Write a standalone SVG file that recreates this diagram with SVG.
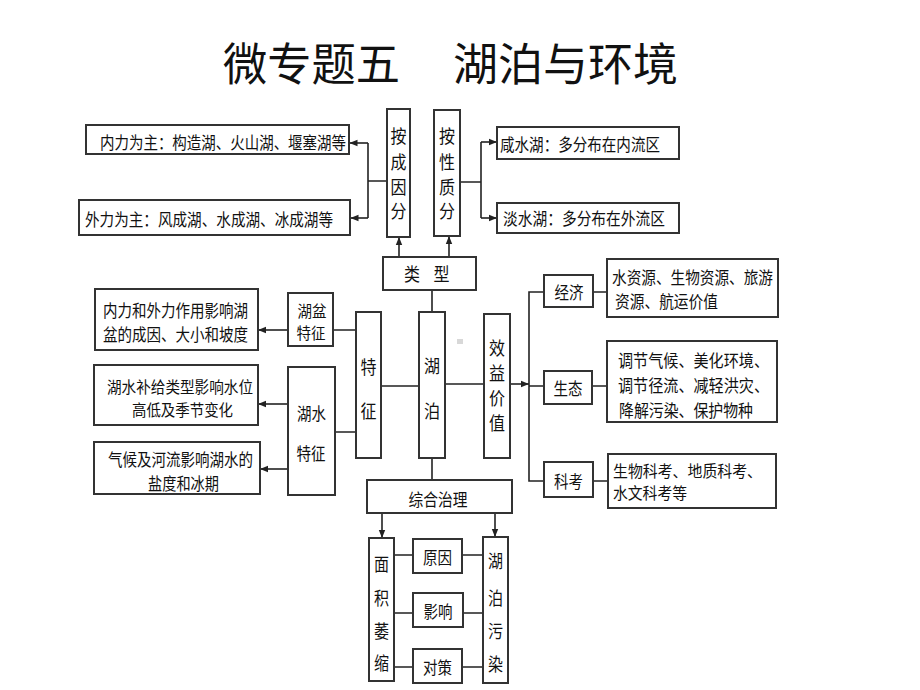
<svg xmlns="http://www.w3.org/2000/svg" width="920" height="690" viewBox="0 0 920 690">
<style>
.box{fill:#fff;stroke:#333;stroke-width:2}
.ln{stroke:#222;stroke-width:1.6;fill:none}
.ar{stroke:#222;stroke-width:1.6;fill:none;marker-end:url(#ah)}
text{font-family:"Noto Sans CJK SC","Noto Sans CJK TC",sans-serif;fill:#111;dominant-baseline:central}
.t{font-size:17px}
.s{font-size:15.5px}
.v{font-size:18px;text-anchor:middle}
.c{font-size:17px;text-anchor:middle}
.cs{font-size:15.5px;text-anchor:middle}
.title{font-size:45px}
</style>
<defs>
<marker id="ah" markerUnits="userSpaceOnUse" markerWidth="8" markerHeight="8" refX="8" refY="4" orient="auto">
<path d="M0,0.8 L8,4 L0,7.2 z" fill="#222"/>
</marker>
</defs>
<rect width="920" height="690" fill="#fff"/>
<g id="title">
<text class="title" x="223" y="61" textLength="177" lengthAdjust="spacingAndGlyphs">微专题五</text>
<text class="title" x="453" y="61" textLength="225" lengthAdjust="spacingAndGlyphs">湖泊与环境</text>
</g>
<g id="connectors">
<path class="ln" d="M387,181 H368 M368,143 V218"/>
<path class="ar" d="M368,143 H349.5"/>
<path class="ar" d="M368,218 H350.5"/>
<path class="ln" d="M460,182 H481 M481,142 V218"/>
<path class="ar" d="M481,142 H497"/>
<path class="ar" d="M481,218 H497"/>
<path class="ar" d="M399,257 V237"/>
<path class="ar" d="M449,257 V236"/>
<path class="ln" d="M432,290 V312 M381,386 H419 M445,384 H484"/>
<path class="ar" d="M510,384 H529"/>
<path class="ln" d="M544,292 H529 V481 H544 M529,386 H544 M593,292 H607 M592,386 H607 M593,481 H608"/>
<path class="ln" d="M333,330 H356 M335,432 H356"/>
<path class="ar" d="M288,330 H258"/>
<path class="ar" d="M288,404 H258"/>
<path class="ar" d="M288,469 H260"/>
<path class="ln" d="M432,458 V480"/>
<path class="ar" d="M382,513 V538"/>
<path class="ar" d="M495,513 V537"/>
<path class="ln" d="M394,555 H413 M462,555 H483 M394,613 H413 M463,613 H483 M394,667 H413 M462,667 H483"/>
</g>
<g id="n-neili">
<rect class="box" x="86" y="125" width="263" height="29"/>
<text class="t" x="100" y="141" textLength="246" lengthAdjust="spacingAndGlyphs">内力为主：构造湖、火山湖、堰塞湖等</text>
</g>
<g id="n-waili">
<rect class="box" x="79" y="200" width="271" height="35"/>
<text class="t" x="85" y="218" textLength="248" lengthAdjust="spacingAndGlyphs">外力为主：风成湖、水成湖、冰成湖等</text>
</g>
<g id="n-anchengyin">
<rect class="box" x="387" y="109" width="23" height="128"/>
<text class="v" x="398.5" y="135" textLength="16" lengthAdjust="spacingAndGlyphs">按</text>
<text class="v" x="398.5" y="161" textLength="16" lengthAdjust="spacingAndGlyphs">成</text>
<text class="v" x="398.5" y="186" textLength="16" lengthAdjust="spacingAndGlyphs">因</text>
<text class="v" x="398.5" y="210" textLength="16" lengthAdjust="spacingAndGlyphs">分</text>
</g>
<g id="n-anxingzhi">
<rect class="box" x="434" y="110" width="26" height="126"/>
<text class="v" x="447" y="135" textLength="16" lengthAdjust="spacingAndGlyphs">按</text>
<text class="v" x="447" y="161" textLength="16" lengthAdjust="spacingAndGlyphs">性</text>
<text class="v" x="447" y="186" textLength="16" lengthAdjust="spacingAndGlyphs">质</text>
<text class="v" x="447" y="210" textLength="16" lengthAdjust="spacingAndGlyphs">分</text>
</g>
<g id="n-xian">
<rect class="box" x="497" y="127" width="182" height="32"/>
<text class="t" x="500" y="143" textLength="160" lengthAdjust="spacingAndGlyphs">咸水湖：多分布在内流区</text>
</g>
<g id="n-dan">
<rect class="box" x="497" y="203" width="182" height="30"/>
<text class="t" x="503" y="217" textLength="162" lengthAdjust="spacingAndGlyphs">淡水湖：多分布在外流区</text>
</g>
<g id="n-leixing">
<rect class="box" x="383" y="257" width="93" height="33"/>
<text class="v" x="412" y="273" textLength="16" lengthAdjust="spacingAndGlyphs">类</text>
<text class="v" x="441.5" y="273" textLength="16" lengthAdjust="spacingAndGlyphs">型</text>
</g>
<g id="n-hubo">
<rect class="box" x="419" y="312" width="26" height="146"/>
<text class="v" x="432" y="365" textLength="16" lengthAdjust="spacingAndGlyphs">湖</text>
<text class="v" x="432" y="410" textLength="16" lengthAdjust="spacingAndGlyphs">泊</text>
</g>
<rect x="457" y="339" width="6" height="5" fill="#d8d8d8"/>
<g id="n-tezheng">
<rect class="box" x="356" y="312" width="25" height="146"/>
<text class="v" x="368.5" y="366" textLength="16" lengthAdjust="spacingAndGlyphs">特</text>
<text class="v" x="368.5" y="410" textLength="16" lengthAdjust="spacingAndGlyphs">征</text>
</g>
<g id="n-xiaoyi">
<rect class="box" x="484" y="314" width="26" height="144"/>
<text class="v" x="497" y="347" textLength="16" lengthAdjust="spacingAndGlyphs">效</text>
<text class="v" x="497" y="372" textLength="16" lengthAdjust="spacingAndGlyphs">益</text>
<text class="v" x="497" y="397" textLength="16" lengthAdjust="spacingAndGlyphs">价</text>
<text class="v" x="497" y="422" textLength="16" lengthAdjust="spacingAndGlyphs">值</text>
</g>
<g id="n-jingji">
<rect class="box" x="544" y="275" width="49" height="32"/>
<text class="c" x="569" y="291" textLength="29" lengthAdjust="spacingAndGlyphs">经济</text>
</g>
<g id="n-jingji-d">
<rect class="box" x="607" y="259" width="171" height="58"/>
<text class="t" x="612" y="276" textLength="161" lengthAdjust="spacingAndGlyphs">水资源、生物资源、旅游</text>
<text class="t" x="615" y="300" textLength="103" lengthAdjust="spacingAndGlyphs">资源、航运价值</text>
</g>
<g id="n-shengtai">
<rect class="box" x="544" y="371" width="48" height="33"/>
<text class="c" x="568" y="387" textLength="29" lengthAdjust="spacingAndGlyphs">生态</text>
</g>
<g id="n-shengtai-d">
<rect class="box" x="607" y="341" width="170" height="81"/>
<text class="t" x="618" y="359" textLength="151" lengthAdjust="spacingAndGlyphs">调节气候、美化环境、</text>
<text class="t" x="618" y="384.5" textLength="151" lengthAdjust="spacingAndGlyphs">调节径流、减轻洪灾、</text>
<text class="t" x="619" y="409.5" textLength="134" lengthAdjust="spacingAndGlyphs">降解污染、保护物种</text>
</g>
<g id="n-kekao">
<rect class="box" x="544" y="462" width="49" height="35"/>
<text class="c" x="568.5" y="480" textLength="29" lengthAdjust="spacingAndGlyphs">科考</text>
</g>
<g id="n-kekao-d">
<rect class="box" x="608" y="454" width="168" height="54"/>
<text class="s" x="613" y="469.5" textLength="149" lengthAdjust="spacingAndGlyphs">生物科考、地质科考、</text>
<text class="s" x="613" y="492" textLength="74" lengthAdjust="spacingAndGlyphs">水文科考等</text>
</g>
<g id="n-hupen">
<rect class="box" x="288" y="293" width="45" height="53"/>
<text class="cs" x="312" y="309.5" textLength="29" lengthAdjust="spacingAndGlyphs">湖盆</text>
<text class="cs" x="311" y="332" textLength="29" lengthAdjust="spacingAndGlyphs">特征</text>
</g>
<g id="n-hupen-d">
<rect class="box" x="95" y="289" width="163" height="61"/>
<text class="t" x="103" y="309" textLength="145" lengthAdjust="spacingAndGlyphs">内力和外力作用影响湖</text>
<text class="t" x="103" y="333" textLength="145" lengthAdjust="spacingAndGlyphs">盆的成因、大小和坡度</text>
</g>
<g id="n-hushui">
<rect class="box" x="288" y="367" width="47" height="128"/>
<text class="c" x="311.5" y="412" textLength="29" lengthAdjust="spacingAndGlyphs">湖水</text>
<text class="c" x="311" y="452" textLength="29" lengthAdjust="spacingAndGlyphs">特征</text>
</g>
<g id="n-bugei">
<rect class="box" x="94" y="365" width="164" height="60"/>
<text class="s" x="107" y="385.5" textLength="146" lengthAdjust="spacingAndGlyphs">湖水补给类型影响水位</text>
<text class="s" x="132" y="408.5" textLength="101" lengthAdjust="spacingAndGlyphs">高低及季节变化</text>
</g>
<g id="n-qihou">
<rect class="box" x="94" y="442" width="166" height="52"/>
<text class="t" x="108" y="458" textLength="145" lengthAdjust="spacingAndGlyphs">气候及河流影响湖水的</text>
<text class="t" x="148" y="482" textLength="71" lengthAdjust="spacingAndGlyphs">盐度和冰期</text>
</g>
<g id="n-zonghe">
<rect class="box" x="367" y="480" width="145" height="33"/>
<text class="c" x="438" y="498" textLength="59" lengthAdjust="spacingAndGlyphs">综合治理</text>
</g>
<g id="n-mianji">
<rect class="box" x="369" y="538" width="25" height="143"/>
<text class="v" x="381.5" y="563" textLength="15" lengthAdjust="spacingAndGlyphs">面</text>
<text class="v" x="381.5" y="597" textLength="15" lengthAdjust="spacingAndGlyphs">积</text>
<text class="v" x="381.5" y="630" textLength="15" lengthAdjust="spacingAndGlyphs">萎</text>
<text class="v" x="381.5" y="662" textLength="15" lengthAdjust="spacingAndGlyphs">缩</text>
</g>
<g id="n-wuran">
<rect class="box" x="483" y="537" width="25" height="146"/>
<text class="v" x="495.5" y="560" textLength="15" lengthAdjust="spacingAndGlyphs">湖</text>
<text class="v" x="495.5" y="597" textLength="15" lengthAdjust="spacingAndGlyphs">泊</text>
<text class="v" x="495.5" y="630" textLength="15" lengthAdjust="spacingAndGlyphs">污</text>
<text class="v" x="495.5" y="663" textLength="15" lengthAdjust="spacingAndGlyphs">染</text>
</g>
<g id="n-yuanyin">
<rect class="box" x="413" y="539" width="49" height="34"/>
<text class="c" x="437.5" y="556" textLength="29" lengthAdjust="spacingAndGlyphs">原因</text>
</g>
<g id="n-yingxiang">
<rect class="box" x="413" y="593" width="50" height="34"/>
<text class="c" x="438" y="610" textLength="29" lengthAdjust="spacingAndGlyphs">影响</text>
</g>
<g id="n-duice">
<rect class="box" x="413" y="649" width="49" height="34"/>
<text class="c" x="437.5" y="666" textLength="29" lengthAdjust="spacingAndGlyphs">对策</text>
</g>
</svg>
